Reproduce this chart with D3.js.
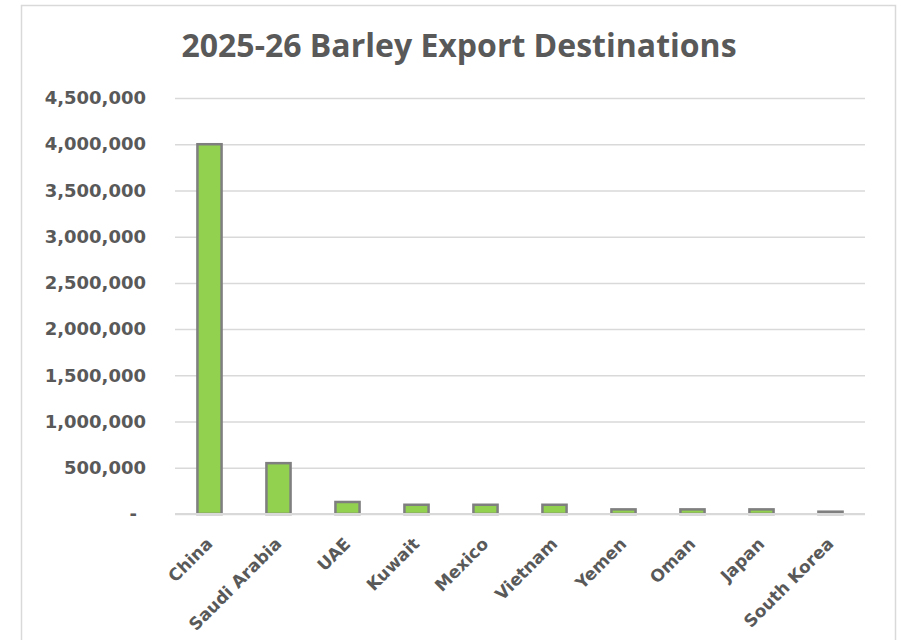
<!DOCTYPE html>
<html>
<head>
<meta charset="utf-8">
<script src="https://cdn.jsdelivr.net/npm/d3@7"></script>
<style>
  body { margin: 0; background: #fff; }
  svg { display: block; }
</style>
</head>
<body>
<div id="chart"></div>
<script>
// Chart data
const countries = ["China", "Saudi Arabia", "UAE", "Kuwait", "Mexico", "Vietnam", "Yemen", "Oman", "Japan", "South Korea"];
const tonnes = [4000000, 550000, 130000, 100000, 100000, 100000, 50000, 50000, 50000, 25000];
const yTicks = [0, 500000, 1000000, 1500000, 2000000, 2500000, 3000000, 3500000, 4000000, 4500000];

const dimensions = {
    width: 902,
    height: 640,
    left: 175,
    right: 865,
    top: 98,
    bottom: 514
}

const labelFont = '"DejaVu Sans", sans-serif';

const svg = d3.select('#chart')
    .append('svg')
    .attr('width', dimensions.width)
    .attr('height', dimensions.height);

// Chart frame
svg.append('rect')
    .attr('x', 21.5)
    .attr('y', 5.5)
    .attr('width', 874)
    .attr('height', 660)
    .attr('fill', '#fff')
    .attr('stroke', '#d9d9d9')
    .attr('stroke-width', 1.5);

// Scales
const xScale = d3.scaleBand()
    .domain(countries)
    .range([dimensions.left, dimensions.right])
    .paddingInner(0.65)
    .paddingOuter(0.325);

const yScale = d3.scaleLinear()
    .domain([0, 4500000])
    .range([dimensions.bottom, dimensions.top]);

// Title
svg.append('text')
    .attr('x', 459)
    .attr('y', 57)
    .attr('text-anchor', 'middle')
    .attr('fill', '#595959')
    .style('font-family', '"Open Sans", sans-serif')
    .style('font-weight', 'bold')
    .style('font-size', '32px')
    .text('2025-26 Barley Export Destinations');

// Gridlines + y labels
const yAxis = d3.axisLeft(yScale)
    .tickValues(yTicks)
    .tickSize(-(dimensions.right - dimensions.left))
    .tickPadding(29)
    .tickFormat(d => d === 0 ? '-' : d3.format(',')(d));

const yAxisGroup = svg.append('g')
    .attr('transform', `translate(${dimensions.left}, 0)`)
    .call(yAxis);
yAxisGroup.select('.domain').remove();
yAxisGroup.selectAll('.tick line')
    .attr('stroke', '#d9d9d9')
    .attr('stroke-width', 1.5);
yAxisGroup.selectAll('.tick text')
    .attr('fill', '#595959')
    .style('font-family', labelFont)
    .style('font-weight', 'bold')
    .style('font-size', '18px');
// Excel accounting format puts the zero dash a little left
yAxisGroup.selectAll('.tick text')
    .filter(d => d === 0)
    .attr('x', -38);

// Bars
svg.append('g')
    .selectAll('rect')
    .data(countries)
    .join('rect')
    .attr('x', d => xScale(d))
    .attr('y', (d, i) => yScale(tonnes[i]))
    .attr('width', xScale.bandwidth())
    .attr('height', (d, i) => yScale(0) - yScale(tonnes[i]))
    .attr('fill', '#92d050')
    .attr('stroke', '#7f7f7f')
    .attr('stroke-width', 2.5);

// Baseline
svg.append('line')
    .attr('x1', dimensions.left)
    .attr('x2', dimensions.right)
    .attr('y1', yScale(0))
    .attr('y2', yScale(0))
    .attr('stroke', '#d9d9d9')
    .attr('stroke-width', 2);

// X axis labels
const xAxis = d3.axisBottom(xScale)
    .tickSize(0)
    .tickPadding(0);
const xAxisGroup = svg.append('g')
    .attr('transform', `translate(0, ${dimensions.bottom})`)
    .call(xAxis);
xAxisGroup.select('.domain').remove();
xAxisGroup.selectAll('.tick text')
    .attr('fill', '#595959')
    .attr('text-anchor', 'end')
    .attr('y', 0)
    .attr('dy', 0)
    .attr('transform', 'translate(4, 31) rotate(-45)')
    .style('font-family', labelFont)
    .style('font-weight', 'bold')
    .style('font-size', '17px');
</script>
</body>
</html>
